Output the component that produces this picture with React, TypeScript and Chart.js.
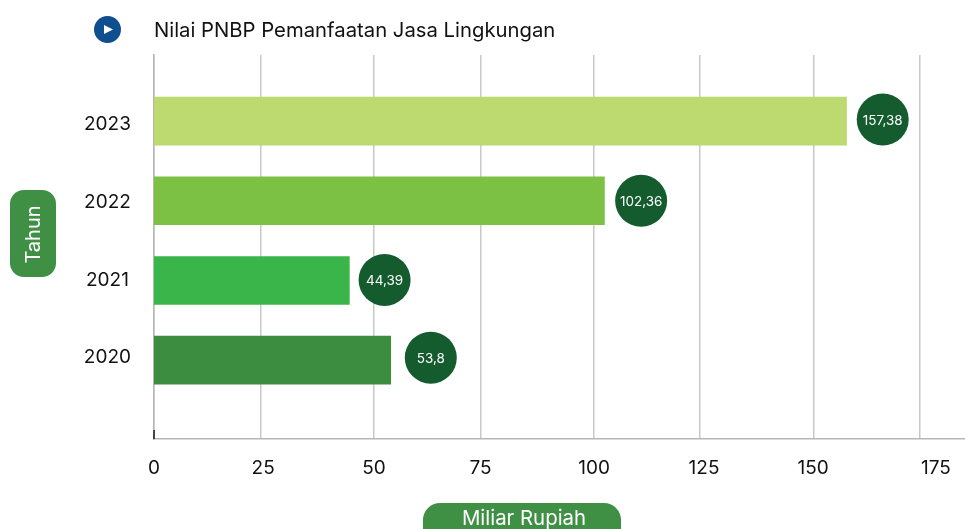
import React, { useEffect, useRef } from "react";
import { Chart, registerables } from "chart.js";

Chart.register(...registerables);

const chartTitle = "Nilai PNBP Pemanfaatan Jasa Lingkungan";
const yTitle = "Tahun";
const xTitle = "Miliar Rupiah";
const years = [2023, 2022, 2021, 2020];
const values = [157.38, 102.36, 44.39, 53.8];
const valueLabels = ["157,38", "102,36", "44,39", "53,8"];
const bubbleCentres = [165.6, 110.7, 52.4, 62.9];
const bubbleRows = [2023.02, 2022.0, 2021.006, 2020.03];
const barColors = ["#bcda6f", "#7cc143", "#3ab54a", "#3c8d40"];
const xTickLabels = ["0", "25", "50", "75", "100", "125", "150", "175"];
const xLabelAt = [0, 24.8, 50, 74.2, 100, 125, 149.8, 177.7];
const xGridTicks = [0, 24.3, 50, 74.2, 100, 124.1, 150, 174];
const yLabelAt = [2022.966, 2021.983, 2021.0, 2020.03];

const FONT = "Inter";
const PILL = "#3f8f45";

const overlay = {
  id: "overlay",
  afterDatasetsDraw(chart: any) {
    const { ctx, scales } = chart;
    ctx.save();
    // bubble labels
    ctx.textAlign = "center";
    ctx.textBaseline = "middle";
    ctx.fillStyle = "#ffffff";
    ctx.font = `13.5px ${FONT}`;
    valueLabels.forEach((t, i) => {
      ctx.fillText(t, scales.x.getPixelForValue(bubbleCentres[i]), scales.y.getPixelForValue(bubbleRows[i]) + 1);
    });
    // tick mark at origin
    ctx.fillStyle = "#444444";
    ctx.fillRect(153, 430, 2, 9);
    // title
    ctx.textAlign = "left";
    ctx.fillStyle = "#111111";
    ctx.font = `20.3px ${FONT}`;
    ctx.fillText(chartTitle, 154, 31);
    // play icon
    ctx.fillStyle = "#0f4f8f";
    ctx.beginPath();
    ctx.arc(107.5, 29.5, 13.5, 0, Math.PI * 2);
    ctx.fill();
    ctx.fillStyle = "#ffffff";
    ctx.beginPath();
    ctx.moveTo(104, 25);
    ctx.lineTo(113, 29.5);
    ctx.lineTo(104, 34);
    ctx.closePath();
    ctx.fill();
    // y pill
    ctx.fillStyle = PILL;
    ctx.beginPath();
    ctx.roundRect(10, 190, 46, 87, 14);
    ctx.fill();
    ctx.save();
    ctx.translate(34, 234.5);
    ctx.rotate(-Math.PI / 2);
    ctx.fillStyle = "#ffffff";
    ctx.textAlign = "center";
    ctx.font = `20px ${FONT}`;
    ctx.fillText(yTitle, 0, 0);
    ctx.restore();
    // x pill
    ctx.fillStyle = PILL;
    ctx.beginPath();
    ctx.roundRect(423, 503, 198, 44, 17);
    ctx.fill();
    ctx.fillStyle = "#ffffff";
    ctx.textAlign = "center";
    ctx.font = `20.4px ${FONT}`;
    ctx.fillText(xTitle, 524, 519);
    ctx.restore();
  },
};

export default function App() {
  const ref = useRef<HTMLCanvasElement>(null);
  useEffect(() => {
    document.body.style.margin = "0";
    document.body.style.background = "#ffffff";
    const chart = new Chart(ref.current as HTMLCanvasElement, {
      type: "bar",
      data: {
        datasets: [
          {
            type: "scatter",
            data: bubbleRows.map((y, i) => ({ x: bubbleCentres[i], y })),
            backgroundColor: "#145c2e",
            borderWidth: 0,
            pointRadius: 26,
            pointHoverRadius: 26,
            showLine: false,
            clip: false,
          },
          {
            type: "bar",
            data: years.map((y, i) => ({ x: values[i], y })),
            backgroundColor: barColors,
            barThickness: 48,
            borderWidth: 0,
          },
        ] as any,
      },
      plugins: [overlay],
      options: {
        indexAxis: "y",
        responsive: false,
        animation: false,
        layout: { autoPadding: false, padding: { top: 55 } },
        plugins: {
          legend: { display: false },
          title: { display: false },
          tooltip: { enabled: false },
        },
        scales: {
          x: {
            type: "linear",
            min: 0,
            max: 184.3,
            afterBuildTicks: (s: any) => {
              s.ticks = xLabelAt.map((value) => ({ value }));
            },
            afterFit: (s: any) => {
              s.height = 90;
              s.paddingRight = 0;
              s.paddingLeft = 0;
            },
            grid: { display: false },
            border: { display: true, color: "#b5b5b5", width: 1.5 },
            ticks: {
              autoSkip: false,
              maxRotation: 0,
              padding: 10,
              color: "#111111",
              font: { family: FONT, size: 19 },
              callback: (_v: any, i: number) => xTickLabels[i],
            },
          },
          x2: {
            type: "linear",
            axis: "x",
            position: "bottom",
            min: 0,
            max: 184.3,
            afterBuildTicks: (s: any) => {
              s.ticks = xGridTicks.map((value) => ({ value }));
            },
            afterFit: (s: any) => {
              s.height = 0;
              s.paddingRight = 0;
              s.paddingLeft = 0;
            },
            grid: { display: true, color: "#c8c8c8", lineWidth: 1.5, drawTicks: false },
            border: { display: false },
            ticks: { display: false },
          },
          y: {
            type: "linear",
            offset: false,
            min: 2019.01,
            max: 2023.83,
            afterBuildTicks: (s: any) => {
              s.ticks = yLabelAt.map((value) => ({ value }));
            },
            afterFit: (s: any) => {
              s.width = 154;
              s.paddingTop = 0;
              s.paddingBottom = 0;
            },
            grid: { display: false, drawTicks: false },
            border: { display: true, color: "#b5b5b5", width: 1.5 },
            ticks: {
              autoSkip: false,
              crossAlign: "center",
              padding: 23,
              color: "#111111",
              font: { family: FONT, size: 19 },
              callback: (_v: any, i: number) => String(years[i]),
            },
          },
        },
      } as any,
    });
    return () => chart.destroy();
  }, []);
  return <canvas ref={ref} width={965} height={529} style={{ display: "block" }} />;
}
